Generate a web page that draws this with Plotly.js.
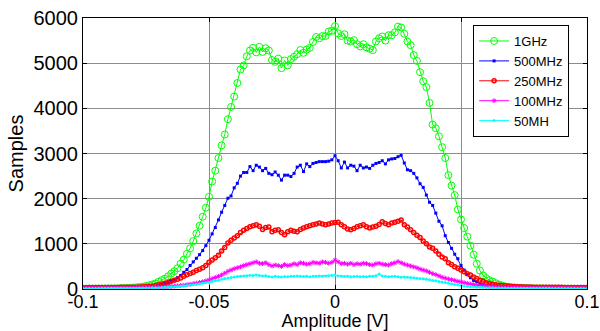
<!DOCTYPE html>
<html>
<head>
<meta charset="utf-8">
<script src="https://cdn.plot.ly/plotly-3.0.1.min.js"></script>
<style>html,body{margin:0;padding:0;background:#fff;}#chart{width:600px;height:331px;}</style>
</head>
<body>
<div id="chart"></div>
<script>
// Histogram bins: amplitude from -0.1 V to 0.1 V, bin width 1.25 mV (161 bins)
const binStart = -0.1;
const binWidth = 0.00125;
const binCount = 161;

const seriesNames = ["1GHz", "500MHz", "250MHz", "100MHz", "50MH"];

const samples1GHz = [
  8,9,9,10,10,11,12,12,
  13,14,16,17,19,21,24,27,
  32,38,45,53,65,82,100,122,
  160,195,230,280,340,395,460,560,
  650,780,900,1060,1230,1400,1600,1800,
  2040,2380,2620,2900,3180,3420,3760,4030,
  4260,4560,4860,4950,5150,5280,5340,5240,
  5360,5250,5330,5280,5070,5030,5100,4890,
  5060,4950,5090,5140,5200,5290,5230,5300,
  5340,5470,5580,5550,5600,5600,5700,5720,
  5820,5660,5600,5640,5500,5480,5510,5420,
  5370,5420,5350,5320,5290,5480,5550,5590,
  5500,5620,5620,5680,5810,5790,5650,5480,
  5400,5180,5050,4800,4600,4470,4120,3640,
  3560,3380,3140,2900,2520,2290,2080,1760,
  1540,1350,1160,960,760,560,410,300,
  240,195,165,130,100,78,58,48,
  40,32,28,25,22,20,18,16,
  15,14,13,12,11,11,10,10,
  9,9,8,8,8,7,7,7,
  6
];

const samples500MHz = [
  3,3,3,4,4,4,5,5,
  5,6,6,7,8,9,10,11,
  13,15,18,22,27,33,42,55,
  80,100,120,145,170,200,250,300,
  370,430,520,600,680,760,850,960,
  1080,1220,1360,1530,1700,1850,2010,2060,
  2240,2340,2500,2580,2580,2710,2620,2740,
  2700,2620,2670,2560,2530,2590,2520,2410,
  2520,2520,2490,2560,2700,2740,2600,2770,
  2710,2780,2800,2820,2820,2820,2830,2860,
  2950,2840,2680,2810,2680,2740,2720,2620,
  2740,2680,2700,2670,2740,2780,2800,2840,
  2770,2860,2880,2890,2930,2960,2790,2640,
  2620,2560,2460,2330,2250,2080,1920,1850,
  1680,1500,1400,1180,1030,900,770,670,
  520,420,320,250,190,160,120,100,
  85,75,68,58,52,46,40,35,
  30,26,22,19,17,15,13,12,
  11,10,9,9,8,8,7,7,
  6,6,6,5,5,5,4,4,
  4
];

const samples250MHz = [
  30,30,31,31,32,32,33,33,
  34,34,35,35,36,36,37,37,
  38,40,44,48,54,60,66,76,
  92,110,125,145,170,195,215,245,
  280,315,345,370,410,440,470,520,
  590,640,690,750,840,920,1020,1080,
  1130,1180,1250,1300,1340,1380,1400,1420,
  1390,1320,1360,1370,1270,1300,1310,1250,
  1200,1270,1300,1280,1270,1320,1350,1380,
  1400,1420,1440,1460,1440,1420,1440,1460,
  1470,1480,1420,1380,1330,1310,1340,1380,
  1400,1420,1380,1350,1370,1390,1430,1490,
  1450,1420,1460,1480,1500,1530,1420,1370,
  1310,1250,1190,1140,1060,1000,930,900,
  840,770,710,670,580,540,490,460,
  420,380,340,310,265,230,195,170,
  140,120,105,95,85,78,70,64,
  58,54,51,48,46,44,42,41,
  40,39,38,38,37,37,36,36,
  36,35,35,34,34,33,33,32,
  32
];

const samples100MHz = [
  20,20,21,21,22,22,23,23,
  24,24,25,25,26,26,27,28,
  29,30,31,32,34,36,38,40,
  42,45,48,52,56,62,68,76,
  85,95,105,118,130,145,160,180,
  200,230,255,280,310,350,390,420,
  450,470,490,520,540,560,580,600,
  570,560,580,540,510,530,520,500,
  540,520,530,560,540,580,570,550,
  560,590,580,570,600,590,570,590,
  640,600,560,570,550,570,540,560,
  550,570,560,540,530,560,570,550,
  540,530,560,580,610,580,550,530,
  510,490,470,440,420,400,370,340,
  320,290,260,240,220,205,190,170,
  155,140,125,110,95,85,75,68,
  60,55,50,46,41,38,36,34,
  32,31,30,29,28,27,27,26,
  26,25,25,24,24,23,23,22,
  22,22,21,21,21,20,20,20,
  20
];

const samples50MHz = [
  12,12,12,13,13,13,14,14,
  14,15,15,15,16,16,17,17,
  18,19,20,21,22,24,26,28,
  30,33,36,40,44,50,56,62,
  70,78,86,95,105,115,125,140,
  150,165,180,195,215,230,245,255,
  265,275,285,290,295,305,300,310,
  300,290,295,275,265,280,270,265,
  275,270,285,280,290,280,275,285,
  270,280,285,290,280,290,295,300,
  310,290,285,275,280,270,275,280,
  270,275,270,285,280,295,330,290,
  280,270,275,285,270,260,265,260,
  255,250,240,235,225,215,205,190,
  180,165,155,145,130,115,100,88,
  75,66,58,50,44,40,36,33,
  30,28,26,24,22,21,20,19,
  18,17,17,16,16,16,15,15,
  15,14,14,14,14,13,13,13,
  13,12,12,12,12,12,12,11,
  11
];

const xTickVals = [-0.1, -0.05, 0, 0.05, 0.1];
const xTickText = ["-0.1", "-0.05", "0", "0.05", "0.1"];
const yTickVals = [0, 1000, 2000, 3000, 4000, 5000, 6000];
const yTickText = ["0", "1000", "2000", "3000", "4000", "5000", "6000"];

const amplitude = [];
for (let k = 0; k < binCount; k++) amplitude.push(Math.round((binStart + k * binWidth) * 1e6) / 1e6);

const FONT = "Liberation Sans, Arial, sans-serif";
const AXFONT = 20;

const styles = [
  {color: "#00ff00", marker: {symbol: "circle-open", size: 7, line: {width: 1, color: "#00ff00"}}},
  {color: "#0000ff", marker: {symbol: "square", size: 3}},
  {color: "#ff0000", marker: {symbol: "circle-open", size: 4, line: {width: 1.5, color: "#ff0000"}}},
  {color: "#ff00ff", marker: {symbol: "asterisk-open", size: 4, line: {width: 1, color: "#ff00ff"}}},
  {color: "#00ffff", marker: {symbol: "circle", size: 3}}
];
const allSeries = [samples1GHz, samples500MHz, samples250MHz, samples100MHz, samples50MHz];

const traces = allSeries.map((ys, i) => ({
  type: "scatter",
  mode: "lines+markers",
  name: seriesNames[i],
  x: amplitude,
  y: ys,
  line: {color: styles[i].color, width: 1},
  marker: Object.assign({color: styles[i].color}, styles[i].marker)
}));

const layout = {
  width: 600, height: 331,
  margin: {l: 83, r: 13, t: 18, b: 42, pad: 0},
  paper_bgcolor: "#ffffff", plot_bgcolor: "#ffffff",
  font: {family: FONT, size: AXFONT, color: "#000"},
  showlegend: true,
  legend: {
    x: 0.774, y: 0.974, xanchor: "left", yanchor: "top",
    bgcolor: "#ffffff", bordercolor: "#000000", borderwidth: 1,
    font: {family: FONT, size: 13, color: "#000"},
    itemwidth: 30, tracegroupgap: 0
  },
  xaxis: {
    range: [-0.1, 0.1], tickmode: "array", tickvals: xTickVals, ticktext: xTickText,
    showgrid: true, gridcolor: "#8c8c8c", gridwidth: 1,
    zeroline: true, zerolinecolor: "#7a7a7a", zerolinewidth: 1,
    showline: true, linecolor: "#000", linewidth: 1, mirror: "ticks",
    ticks: "inside", ticklen: 4, tickcolor: "#000",
    tickfont: {family: FONT, size: 18, color: "#000"},
    ticklabeloverflow: "allow", ticklabelstandoff: -4,
    automargin: false,
    title: {text: "Amplitude [V]", font: {family: FONT, size: 18, color: "#000"}, standoff: 2}
  },
  yaxis: {
    range: [0, 6000], tickmode: "array", tickvals: yTickVals, ticktext: yTickText,
    showgrid: true, gridcolor: "#8c8c8c", gridwidth: 1,
    zeroline: false,
    showline: true, linecolor: "#000", linewidth: 1, mirror: "ticks",
    ticks: "inside", ticklen: 4, tickcolor: "#000",
    tickfont: {family: FONT, size: AXFONT, color: "#000"},
    automargin: false,
    title: {text: "Samples", font: {family: FONT, size: AXFONT, color: "#000"}, standoff: 4}
  }
};

Plotly.newPlot("chart", traces, layout, {displayModeBar: false, staticPlot: true});
</script>
</body>
</html>
